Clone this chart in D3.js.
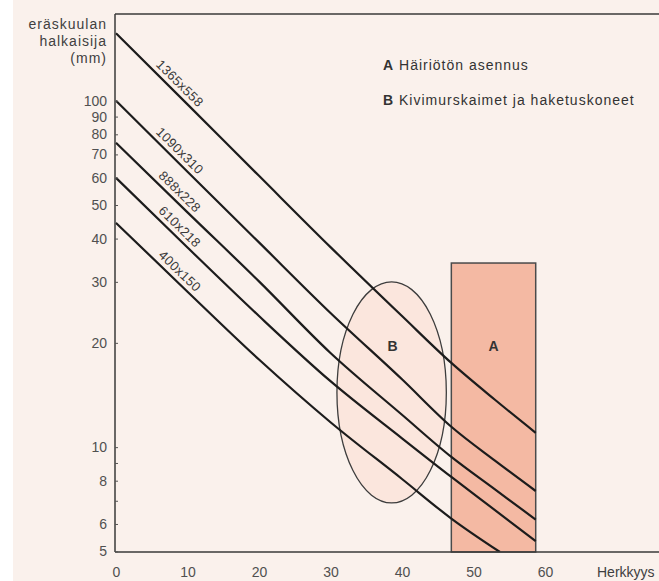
<!DOCTYPE html>
<html>
<head>
<meta charset="utf-8">
<script src="https://cdn.jsdelivr.net/npm/d3@7"></script>
<style>
  html, body { margin: 0; padding: 0; background: #ffffff; }
  svg { display: block; }
  text { font-family: "Liberation Sans", Arial, sans-serif; }
</style>
</head>
<body>
<svg id="chart" width="659" height="581"></svg>
<script>
// Sensitivity class (x) vs. steel-ball diameter in mm (log y)
const xTickValues = [0, 10, 20, 30, 40, 50, 60];
const yTickValues = [5, 6, 7, 8, 9, 10, 20, 30, 40, 50, 60, 70, 80, 90, 100];
const yTickLabels = ["5", "6", "", "8", "", "10", "20", "30", "40", "50", "60", "70", "80", "90", "100"];

// Curves per ball size (diameter in mm at each sensitivity value)
const seriesNames = ["1365x558", "1090x310", "888x228", "610x218", "400x150"];
const xs1365 = [0, 10, 20, 30, 40, 46.9, 53, 58.7];
const ys1365 = [156.7, 97.6, 60.7, 37.8, 23.9, 17.5, 13.7, 11.0];
const xs1090 = [0, 10, 20, 30, 40, 46.9, 53, 58.7];
const ys1090 = [100, 62.4, 39.0, 24.4, 15.7, 11.45, 9.14, 7.47];
const xs888 = [0, 10, 20, 30, 40, 46.9, 53, 58.7];
const ys888 = [75.6, 47.6, 30.1, 18.7, 12.4, 9.37, 7.55, 6.18];
const xs610 = [0, 10, 20, 30, 40, 46.9, 53, 58.7];
const ys610 = [59.9, 37.7, 23.9, 15.5, 10.6, 8.2, 6.58, 5.35];
const xs400 = [0, 10, 20, 30, 40, 46.9, 53.7];
const ys400 = [44.4, 28.1, 17.9, 11.8, 8.09, 6.22, 4.98];

// Zone A (rectangle) and zone B (ellipse)
const zoneA = [46.9, 58.7, 34];          // x from, x to, top value
const zoneB = [30.9, 46.2, 30, 6.9];     // x from, x to, top value, bottom value

const legendKeys = ["A", "B"];
const legendTexts = ["Häiriötön asennus", "Kivimurskaimet ja haketuskoneet"];

const svg = d3.select("#chart");
const W = 659, H = 581;

const x = d3.scaleLinear().domain([0, 60]).range([116, 545]);
const y = d3.scaleLog().domain([4.98, 178]).range([552, 14]);

// background
svg.append("rect").attr("x", 13).attr("y", 0).attr("width", W - 13).attr("height", H)
  .attr("fill", "#faf1ec");

svg.append("defs").append("clipPath").attr("id", "plotClip")
  .append("rect").attr("x", 115).attr("y", 14).attr("width", W - 115).attr("height", 552 - 14);

// zone B ellipse
svg.append("ellipse")
  .attr("cx", (x(zoneB[0]) + x(zoneB[1])) / 2)
  .attr("cy", (y(zoneB[2]) + y(zoneB[3])) / 2)
  .attr("rx", (x(zoneB[1]) - x(zoneB[0])) / 2)
  .attr("ry", (y(zoneB[3]) - y(zoneB[2])) / 2)
  .attr("fill", "#fbe6dd").attr("stroke", "#3d3d3d").attr("stroke-width", 1.3);

// zone A rectangle
svg.append("rect")
  .attr("x", x(zoneA[0])).attr("y", y(zoneA[2]))
  .attr("width", x(zoneA[1]) - x(zoneA[0]))
  .attr("height", y.range()[0] - y(zoneA[2]))
  .attr("fill", "#f4b9a3").attr("stroke", "#4a4a4a").attr("stroke-width", 1.5);

svg.append("text").attr("x", (x(zoneB[0]) + x(zoneB[1])) / 2 + 1).attr("y", 351)
  .attr("text-anchor", "middle").attr("font-size", 14).attr("font-weight", "bold")
  .attr("fill", "#333").text("B");
svg.append("text").attr("x", (x(zoneA[0]) + x(zoneA[1])) / 2).attr("y", 351)
  .attr("text-anchor", "middle").attr("font-size", 14).attr("font-weight", "bold")
  .attr("fill", "#333").text("A");

// curves
const seriesX = [xs1365, xs1090, xs888, xs610, xs400];
const seriesY = [ys1365, ys1090, ys888, ys610, ys400];
const line = d3.line().x(d => x(d[0])).y(d => y(d[1])).curve(d3.curveMonotoneX);
const gLines = svg.append("g").attr("clip-path", "url(#plotClip)");
seriesNames.forEach((name, i) => {
  const pts = seriesX[i].map((v, j) => [v, seriesY[i][j]]);
  gLines.append("path").datum(pts).attr("d", line)
    .attr("fill", "none").attr("stroke", "#1c1c1c").attr("stroke-width", 2.2);

  // rotated label sitting above the first segment of the curve
  const t = 0.8;                                   // fraction along the first segment
  const x0 = x(pts[0][0]), y0 = y(pts[0][1]);
  const x1 = x(pts[1][0]), y1 = y(pts[1][1]);
  const px = x0 + (x1 - x0) * t, py = y0 + (y1 - y0) * t;
  const ang = Math.atan2(y1 - y0, x1 - x0) * 180 / Math.PI;
  svg.append("text")
    .attr("transform", `translate(${px},${py}) rotate(${ang})`)
    .attr("x", 0).attr("y", -5)
    .attr("text-anchor", "middle").attr("font-size", 13).attr("letter-spacing", 0.4)
    .attr("fill", "#3a3a3a").text(name);
});

// axes frame
const axisColor = "#3a3a3a";
svg.append("line").attr("x1", 115).attr("x2", W).attr("y1", 14).attr("y2", 14)
  .attr("stroke", axisColor).attr("stroke-width", 1.5);
svg.append("line").attr("x1", 115).attr("x2", W).attr("y1", 552).attr("y2", 552)
  .attr("stroke", axisColor).attr("stroke-width", 1.5);

const yAxis = d3.axisRight(y).tickValues(yTickValues).tickSize(3).tickFormat(() => "");
const gy = svg.append("g").attr("transform", "translate(115,0)").call(yAxis);
gy.select(".domain").attr("stroke", axisColor).attr("stroke-width", 1.5)
  .attr("d", "M0,14V552");
gy.selectAll(".tick line").attr("stroke", "#555").attr("stroke-width", 1);

svg.append("g").selectAll("text").data(yTickValues).join("text")
  .attr("x", 107).attr("y", d => y(d) + 5)
  .attr("text-anchor", "end").attr("font-size", 14).attr("fill", "#505050")
  .text((d, i) => yTickLabels[i]);

const xAxis = d3.axisBottom(x).tickValues(xTickValues).tickSize(0).tickPadding(0);
const gx = svg.append("g").attr("transform", "translate(0,552)").call(xAxis);
gx.select(".domain").remove();
gx.selectAll(".tick text").attr("font-size", 14).attr("fill", "#505050")
  .attr("font-family", "Liberation Sans, Arial, sans-serif")
  .attr("dy", null).attr("y", 25);

svg.append("text").attr("x", 597).attr("y", 577).attr("font-size", 14)
  .attr("fill", "#404040").text("Herkkyys");

// y title
const titleLines = ["eräskuulan", "halkaisija", "(mm)"];
svg.append("g").selectAll("text").data(titleLines).join("text")
  .attr("x", 107).attr("y", (d, i) => 29 + i * 17)
  .attr("text-anchor", "end").attr("font-size", 14).attr("letter-spacing", 1)
  .attr("fill", "#404040").text(d => d);

// legend
legendKeys.forEach((k, i) => {
  const t = svg.append("text").attr("x", 383).attr("y", 70 + i * 35)
    .attr("font-size", 14).attr("letter-spacing", 1).attr("fill", "#333");
  t.append("tspan").attr("font-weight", "bold").text(k);
  t.append("tspan").text(" " + legendTexts[i]);
});
</script>
</body>
</html>
